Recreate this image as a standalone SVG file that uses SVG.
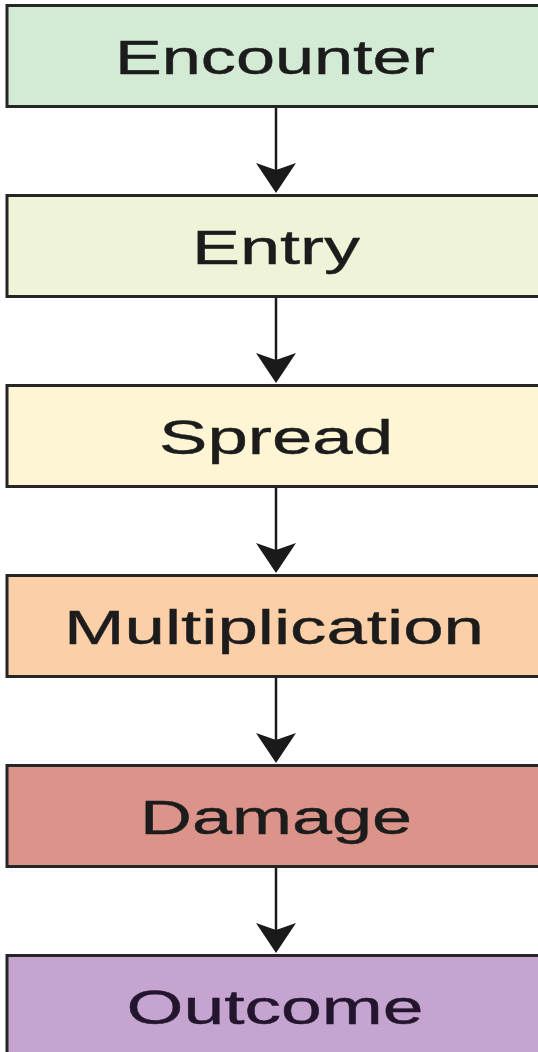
<svg xmlns="http://www.w3.org/2000/svg" width="538" height="1052" viewBox="0 0 538 1052">
<style>
.box{stroke:#262626;stroke-width:3}
.lbl{font-family:"Liberation Sans",Arial,sans-serif;font-size:48px;fill:#1c1c1c;stroke:#1c1c1c;stroke-width:0.4;text-anchor:middle}
.ln{stroke:#1a1a1a;stroke-width:2.5;fill:none}
.ah{fill:#1a1a1a}
</style>
<defs>
<polygon id="head" class="ah" points="-20,0 0,7 20,0 0,30"/>
</defs>
<rect width="538" height="1052" fill="#ffffff"/>
<g id="connectors">
<line class="ln" x1="276" y1="106" x2="276" y2="175"/>
<use href="#head" x="276" y="163"/>
<line class="ln" x1="276" y1="296" x2="276" y2="365"/>
<use href="#head" x="276" y="353"/>
<line class="ln" x1="276" y1="486" x2="276" y2="555"/>
<use href="#head" x="276" y="543"/>
<line class="ln" x1="276" y1="676" x2="276" y2="745"/>
<use href="#head" x="276" y="733"/>
<line class="ln" x1="276" y1="866" x2="276" y2="935"/>
<use href="#head" x="276" y="923"/>
</g>
<g id="encounter">
<rect class="box" x="7" y="5.5" width="540" height="101" fill="#d3ebd5"/>
<text class="lbl" x="275" y="74" textLength="320" lengthAdjust="spacingAndGlyphs">Encounter</text>
</g>
<g id="entry">
<rect class="box" x="7" y="195.5" width="540" height="101" fill="#eff4d9"/>
<text class="lbl" x="276" y="264" textLength="168" lengthAdjust="spacingAndGlyphs">Entry</text>
</g>
<g id="spread">
<rect class="box" x="7" y="385.5" width="540" height="101" fill="#fdf5d3"/>
<text class="lbl" x="276" y="454" textLength="234" lengthAdjust="spacingAndGlyphs">Spread</text>
</g>
<g id="multiplication">
<rect class="box" x="7" y="575.5" width="540" height="101" fill="#fbcfa7"/>
<text class="lbl" x="274" y="644" textLength="420" lengthAdjust="spacingAndGlyphs">Multiplication</text>
</g>
<g id="damage">
<rect class="box" x="7" y="765.5" width="540" height="101" fill="#db938a"/>
<text class="lbl" x="276" y="834" textLength="272" lengthAdjust="spacingAndGlyphs">Damage</text>
</g>
<g id="outcome">
<rect class="box" x="7" y="955.5" width="540" height="110" fill="#c5a5d0"/>
<text class="lbl" x="275" y="1024" textLength="297" lengthAdjust="spacingAndGlyphs" style="fill:#24152e;stroke:#24152e">Outcome</text>
</g>
</svg>
